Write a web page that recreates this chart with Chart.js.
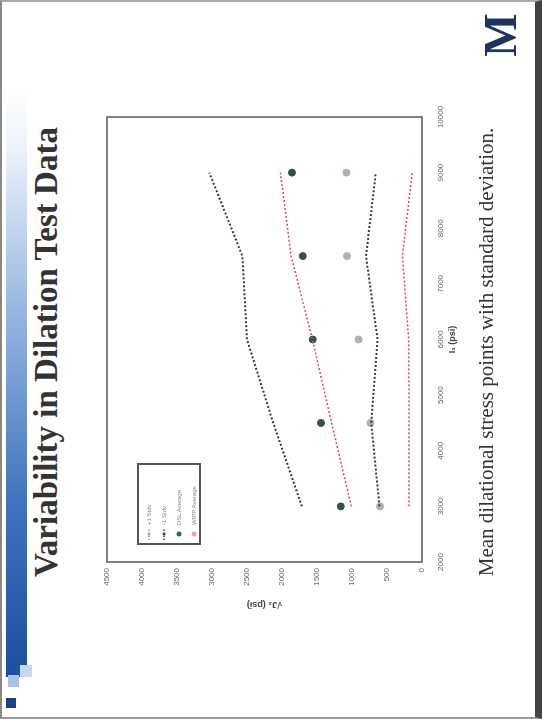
<!DOCTYPE html>
<html>
<head>
<meta charset="utf-8">
<script src="https://cdn.jsdelivr.net/npm/chart.js@4.4.0/dist/chart.umd.min.js"></script>
<style>
  html, body { margin: 0; padding: 0; background: #fff; }
  body { width: 542px; height: 719px; overflow: hidden; position: relative; }
  /* the slide is built in landscape and turned a quarter turn to the left */
  #slide {
    position: absolute; left: 0; top: 0;
    width: 719px; height: 542px;
    box-sizing: border-box;
    border-top: 2px solid #888; border-left: 2px solid #999; border-right: 2px solid #aaa;
    border-bottom: 7px solid #444;
    background: #fff;
    transform-origin: 0 0;
    transform: translateY(719px) rotate(-90deg);
  }
  .abs { position: absolute; }
  #titulo {
    left: 105px; top: 27px; width: 520px; text-align: center;
    font: bold 33px 'Liberation Serif', 'DejaVu Serif', serif; color: #333; line-height: 34px;
  }
  #pie {
    left: 85px; top: 472px; width: 560px; text-align: center;
    font: 21px 'Liberation Serif', 'DejaVu Serif', serif; color: #333;
  }
  #barra {
    left: 40px; top: 4px; width: 590px; height: 21px;
    background: linear-gradient(to right, #1a4f9c 0%, #3f74bf 30%, #9fbde3 65%, #eef3fa 90%, #ffffff 100%);
  }
  #logo {
    left: 658px; top: 474px; width: 48px; height: 50px; text-align: center;
    font: bold 46px 'Liberation Serif', serif; color: #1d355e; line-height: 50px;
  }
  #leyenda {
    left: 172px; top: 135px; width: 82px; height: 64px;
    border: 2px solid #555; background: #fff; box-sizing: border-box;
    padding: 3px 0 0 3px;
    font: 6px 'Liberation Sans', Arial, sans-serif; color: #888;
  }
  #leyenda div { height: 15px; line-height: 15px; white-space: nowrap; }
  #leyenda svg { vertical-align: middle; margin-right: 3px; }
  #grafico { left: 0; top: 0; }
</style>
</head>
<body>
<div id="slide">
  <div class="abs" id="barra"></div>
  <div class="abs" style="left:9px;top:4px;width:10px;height:10px;background:#1d3f8a"></div>
  <div class="abs" style="left:30px;top:6px;width:12px;height:11px;background:#a9c2e6"></div>
  <div class="abs" style="left:40px;top:18px;width:12px;height:12px;background:#c9d8ef"></div>
  <div class="abs" id="titulo">Variability in Dilation Test Data</div>
  <canvas class="abs" id="grafico" width="715" height="533"></canvas>
  <div class="abs" id="leyenda"></div>
  <div class="abs" id="pie">Mean dilational stress points with standard deviation.</div>
  <div class="abs" id="logo">M</div>
</div>
<script>
// datos
const valoresI1 = [3000, 4500, 6000, 7500, 9000];
const masStdOscuro = [1716, 2125, 2500, 2566, 3038];
const menosStdOscuro = [608, 725, 635, 800, 660];
const masStdRojo = [1009, 1292, 1565, 1870, 2023];
const menosStdRojo = [185, 185, 190, 280, 140];
const promedioDSL = [1160, 1443, 1561, 1703, 1858];
const promedioWIPP = [599, 736, 906, 1071, 1080];
const ticksX = [2000, 3000, 4000, 5000, 6000, 7000, 8000, 9000, 10000];
const ticksY = [0, 500, 1000, 1500, 2000, 2500, 3000, 3500, 4000, 4500];
const etiquetas = ['+1 Stdv', '-1 Stdv', 'DSL Average', 'WIPP Average'];

function puntos(ys) {
    return valoresI1.map(function (x, i) { return { x: x, y: ys[i] }; });
}

// leyenda en html
const leyenda = document.getElementById('leyenda');
const muestras = [
    '<svg width="12" height="6"><line x1="0" y1="3" x2="12" y2="3" stroke="#999" stroke-dasharray="1.5,1.5" stroke-width="1.5"/><circle cx="6" cy="3" r="1.5" fill="#aaa"/></svg>',
    '<svg width="12" height="6"><line x1="0" y1="3" x2="12" y2="3" stroke="#444" stroke-dasharray="1.5,1.5" stroke-width="1.5"/><circle cx="6" cy="3" r="1.5" fill="#444"/></svg>',
    '<svg width="12" height="6"><circle cx="6" cy="3" r="2.5" fill="#2f6b58"/></svg>',
    '<svg width="12" height="6"><circle cx="6" cy="3" r="2.5" fill="#e7a3ad"/></svg>'
];
etiquetas.forEach(function (t, i) {
    leyenda.innerHTML += '<div>' + muestras[i] + t + '</div>';
});

// marco alrededor del area del grafico
const marco = {
    id: 'marco',
    afterDraw: function (chart) {
        const a = chart.chartArea;
        const ctx = chart.ctx;
        ctx.save();
        ctx.strokeStyle = '#555';
        ctx.lineWidth = 1.5;
        ctx.strokeRect(a.left, a.top, a.right - a.left, a.bottom - a.top);
        ctx.restore();
    }
};

const sinComa = function (v) { return String(v); };

const ctx = document.getElementById('grafico').getContext('2d');
new Chart(ctx, {
    type: 'line',
    data: {
        datasets: [
            { label: etiquetas[0], data: puntos(masStdOscuro), borderColor: '#3a3a3a', borderWidth: 2, borderDash: [2, 2], pointRadius: 0, fill: false },
            { label: etiquetas[1], data: puntos(menosStdOscuro), borderColor: '#3a3a3a', borderWidth: 2, borderDash: [2, 2], pointRadius: 0, fill: false },
            { label: '+1 Stdv (2)', data: puntos(masStdRojo), borderColor: '#d94a5c', borderWidth: 1.5, borderDash: [2, 2], pointRadius: 0, fill: false },
            { label: '-1 Stdv (2)', data: puntos(menosStdRojo), borderColor: '#d94a5c', borderWidth: 1.5, borderDash: [2, 2], pointRadius: 0, fill: false },
            { label: etiquetas[2], data: puntos(promedioDSL), showLine: false, pointRadius: 3.5, pointBackgroundColor: '#34504a', pointBorderColor: '#34504a' },
            { label: etiquetas[3], data: puntos(promedioWIPP), showLine: false, pointRadius: 3.5, pointBackgroundColor: '#b7adad', pointBorderColor: '#b7adad' }
        ]
    },
    options: {
        responsive: false,
        animation: false,
        devicePixelRatio: 1,
        layout: { padding: { left: 103, top: 105, right: 115, bottom: 73 } },
        plugins: { legend: { display: false }, tooltip: { enabled: false } },
        scales: {
            x: {
                type: 'linear', min: 2000, max: 10000,
                afterBuildTicks: function (s) { s.ticks = ticksX.map(function (v) { return { value: v }; }); },
                afterFit: function (s) { s.height = 40; },
                grid: { display: false, drawTicks: false },
                border: { display: false },
                ticks: { padding: 14, color: '#666', font: { size: 8, family: 'Liberation Sans' }, maxRotation: 0, callback: sinComa },
                title: { display: true, text: 'I₁ (psi)', color: '#444', font: { size: 9, weight: 'bold', family: 'Liberation Sans' } }
            },
            y: {
                min: 0, max: 4500,
                afterBuildTicks: function (s) { s.ticks = ticksY.map(function (v) { return { value: v }; }); },
                afterFit: function (s) { s.width = 52; },
                grid: { display: false, drawTicks: false },
                border: { display: false },
                ticks: { padding: 6, color: '#666', font: { size: 8, family: 'Liberation Sans' }, callback: sinComa },
                title: { display: true, text: '√J₂ (psi)', color: '#444', font: { size: 9, weight: 'bold', family: 'Liberation Sans' } }
            }
        }
    },
    plugins: [marco]
});
</script>
</body>
</html>
